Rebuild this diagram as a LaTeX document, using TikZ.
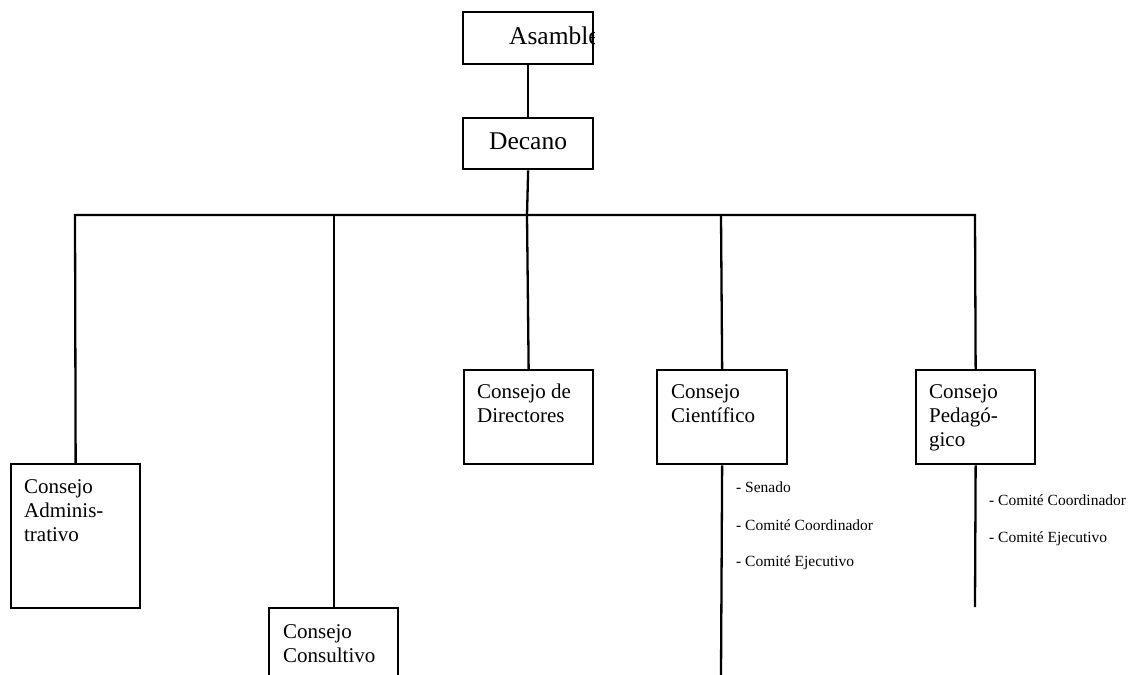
\documentclass[tikz,border=0pt]{standalone}
\usepackage{fontspec}
\setmainfont{Liberation Serif}
\begin{document}
\begin{tikzpicture}[x=1pt,y=-1pt, line width=2.3pt,
 box/.style={draw, line width=2.3pt, inner sep=0pt, anchor=north west},
 lbl/.style={anchor=base west, inner sep=0pt, font=\fontsize{21}{24}\selectfont},
 toplbl/.style={anchor=base west, inner sep=0pt, font=\fontsize{25.5}{28}\selectfont},
 item/.style={anchor=base west, inner sep=0pt, font=\fontsize{15.5}{18}\selectfont}]
\useasboundingbox (0,0) rectangle (1128,675);
% boxes
\node[box, minimum width=130pt, minimum height=52pt] (asam) at (462,11) {};
\node[box, minimum width=130pt, minimum height=51pt] (dec) at (462,117) {};
\node[box, minimum width=129pt, minimum height=144pt] (adm) at (10,463) {};
\node[box, minimum width=129pt, minimum height=94pt] (dir) at (463,369) {};
\node[box, minimum width=130pt, minimum height=94pt] (cie) at (656,369) {};
\node[box, minimum width=119pt, minimum height=94pt] (ped) at (915,369) {};
% open box (Consejo Consultivo)
\coordinate (conbl) at (269,676);
\coordinate (contl) at (269,608);
\coordinate (contr) at (398,608);
\coordinate (conbr) at (398,676);
\coordinate (contop) at (334,608);
\draw (conbl) -- (contl) -- (contr) -- (conbr);
% box texts
\begin{scope}
\clip (asam.north west) rectangle (asam.south east);
\node[toplbl] (asamt) at (508,44) {Asamblea};
\end{scope}
\node[toplbl] (dect) at (488,149) {Decano};
\node[lbl] (admt1) at (23,493) {Consejo};
\node[lbl] (admt2) at (23,517) {Adminis-};
\node[lbl] (admt3) at (23,541) {trativo};
\node[lbl] (cont1) at (282,638) {Consejo};
\node[lbl] (cont2) at (282,662) {Consultivo};
\node[lbl] (dirt1) at (476,398) {Consejo de};
\node[lbl] (dirt2) at (476,422) {Directores};
\node[lbl] (ciet1) at (670,398) {Consejo};
\node[lbl] (ciet2) at (670,422) {Científico};
\node[lbl] (pedt1) at (928,398) {Consejo};
\node[lbl] (pedt2) at (928,422) {Pedagó-};
\node[lbl] (pedt3) at (928,446) {gico};
% lists
\node[item] (l1) at (735,492) {- Senado};
\node[item] (l2) at (735,530) {- Comité Coordinador};
\node[item] (l3) at (735,566) {- Comité Ejecutivo};
\node[item] (l4) at (988,505) {- Comité Coordinador};
\node[item] (l5) at (988,542) {- Comité Ejecutivo};
% connectors
\coordinate (hl) at (75,215);
\coordinate (h2) at (334,215);
\coordinate (hub) at (527,215);
\coordinate (h4) at (721,215);
\coordinate (hr) at (975,215);
\coordinate (cieend) at (721,676);
\coordinate (pedend) at (975,607);
\draw (asam.south) -- (dec.north);
\draw (dec.south) -- (hub);
\draw (adm.north) -- (hl) -- (hr) -- (ped.north);
\draw (h2) -- (contop);
\draw (hub) -- (dir.north);
\draw (h4) -- (cie.north);
\draw (cie.south) -- (cieend);
\draw (ped.south) -- (pedend);
\end{tikzpicture}
\end{document}
